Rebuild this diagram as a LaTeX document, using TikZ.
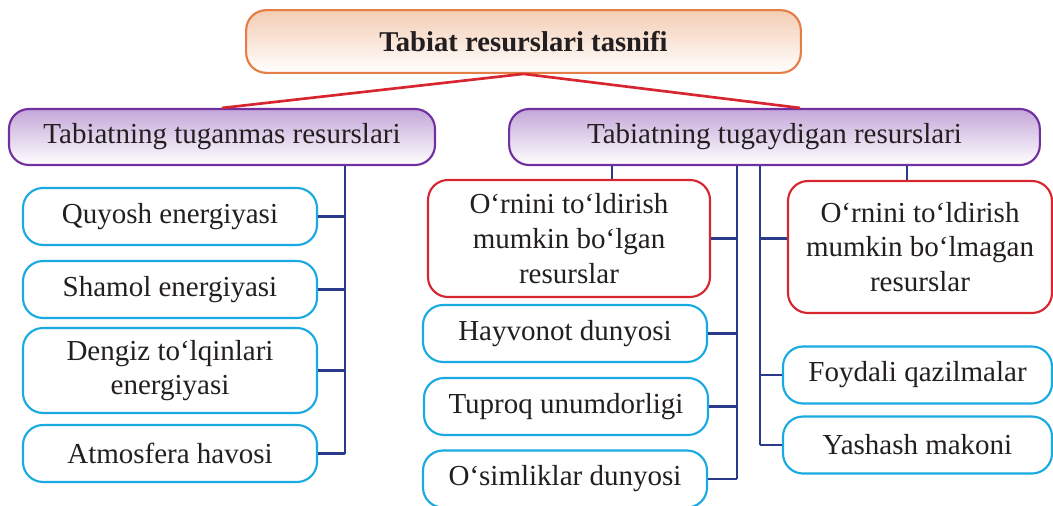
\documentclass[tikz,border=0pt]{standalone}
\usepackage{fontspec}
\setmainfont{Liberation Serif}
\usepackage{tikz}
\usetikzlibrary{positioning}
\definecolor{txt}{HTML}{231F20}
\definecolor{peach}{HTML}{F4CDB3}
\definecolor{orangeline}{HTML}{E57E45}
\definecolor{lilac}{HTML}{C4A6D8}
\definecolor{purpleline}{HTML}{7030A0}
\definecolor{redline}{HTML}{D7262F}
\definecolor{cyanline}{HTML}{1AAAE2}
\definecolor{navy}{HTML}{2B3A8C}
\begin{document}
\begin{tikzpicture}[x=0.75pt,y=-0.75pt,
	every node/.style={text=txt, font=\fontsize{21.75}{26}\selectfont, align=center, inner sep=0pt},
	titlebox/.style={draw=orangeline, line width=1.6pt, rounded corners=15pt,
		top color=peach, middle color=peach, bottom color=white,
		minimum width=416pt, minimum height=47pt, font=\fontsize{21.5}{26}\selectfont\bfseries},
	headbox/.style={draw=purpleline, line width=1.6pt, rounded corners=15pt,
		top color=lilac, middle color=lilac, bottom color=white, minimum height=42pt},
	redbox/.style={draw=redline, line width=1.6pt, rounded corners=15pt, fill=white},
	itembox/.style={draw=cyanline, line width=1.6pt, rounded corners=15pt, fill=white, minimum height=42.75pt},
	conn/.style={draw=navy, line width=2pt},
	link/.style={draw=redline, line width=2pt}]
	\useasboundingbox (0,0) rectangle (1053,506);
	
	% top and headers
	\node[titlebox] (T) at (523.5,41.5) {Tabiat resurslari tasnifi};
	\node[headbox, minimum width=319.5pt] (HL) at (222,137) {Tabiatning tuganmas resurslari};
	\node[headbox, minimum width=398pt] (HR) at (774.5,137) {Tabiatning tugaydigan resurslari};
	
	% left column
	\node[itembox, minimum width=220.5pt] (Q1) at (170,216.5) {Quyosh energiyasi};
	\node[itembox, minimum width=220.5pt] (Q2) at (170,289.5) {Shamol energiyasi};
	\node[itembox, minimum width=220.5pt, minimum height=63.75pt] (Q3) at (170,370.5) {Dengiz to‘lqinlari\\energiyasi};
	\node[itembox, minimum width=220.5pt] (Q4) at (170,453.5) {Atmosfera havosi};
	
	% middle column
	\node[redbox, minimum width=211.5pt, minimum height=87.75pt] (R1) at (569,238.5) {O‘rnini to‘ldirish\\mumkin bo‘lgan\\resurslar};
	\node[itembox, minimum width=213pt] (B1) at (565,333.5) {Hayvonot dunyosi};
	\node[itembox, minimum width=213pt] (B2) at (566,406.5) {Tuproq unumdorligi};
	\node[itembox, minimum width=213pt] (B3) at (565,479) {O‘simliklar dunyosi};
	
	% right column
	\node[redbox, minimum width=198pt, minimum height=99pt] (R2) at (920,247) {O‘rnini to‘ldirish\\mumkin bo‘lmagan\\resurslar};
	\node[itembox, minimum width=201.75pt] (C1) at (917.5,375) {Foydali qazilmalar};
	\node[itembox, minimum width=201.75pt] (C2) at (917.5,445) {Yashash makoni};
	
	% spines
	\coordinate (SL) at (345,165);
	\coordinate (SM) at (737,165);
	\coordinate (SR) at (760,165);
	\coordinate (PA) at (612,165);
	\coordinate (PB) at (907,165);
	
	\draw[link] (T.south) -- (HL.north);
	\draw[link] (T.south) -- (HR.north -| 800,0);
	
	\draw[conn] (HL.south -| SL) -- (Q4.east -| SL);
	\foreach \n in {Q1,Q2,Q3,Q4}{
		\draw[conn] (\n.east) -- (\n.east -| SL);
	}
	\draw[conn] (HR.south -| SM) -- (B3.east -| SM);
	\draw[conn] (R1.east) -- (R1.east -| SM);
	\foreach \n in {B1,B2,B3}{
		\draw[conn] (\n.east) -- (\n.east -| SM);
	}
	\draw[conn] (HR.south -| SR) -- (C2.west -| SR);
	\draw[conn] (R2.west |- R1.east) -- (R1.east -| SR);
	\foreach \n in {C1,C2}{
		\draw[conn] (\n.west) -- (\n.west -| SR);
	}
	\draw[conn] (HR.south -| PA) -- (R1.north -| PA);
	\draw[conn] (HR.south -| PB) -- (R2.north -| PB);
\end{tikzpicture}
\end{document}
